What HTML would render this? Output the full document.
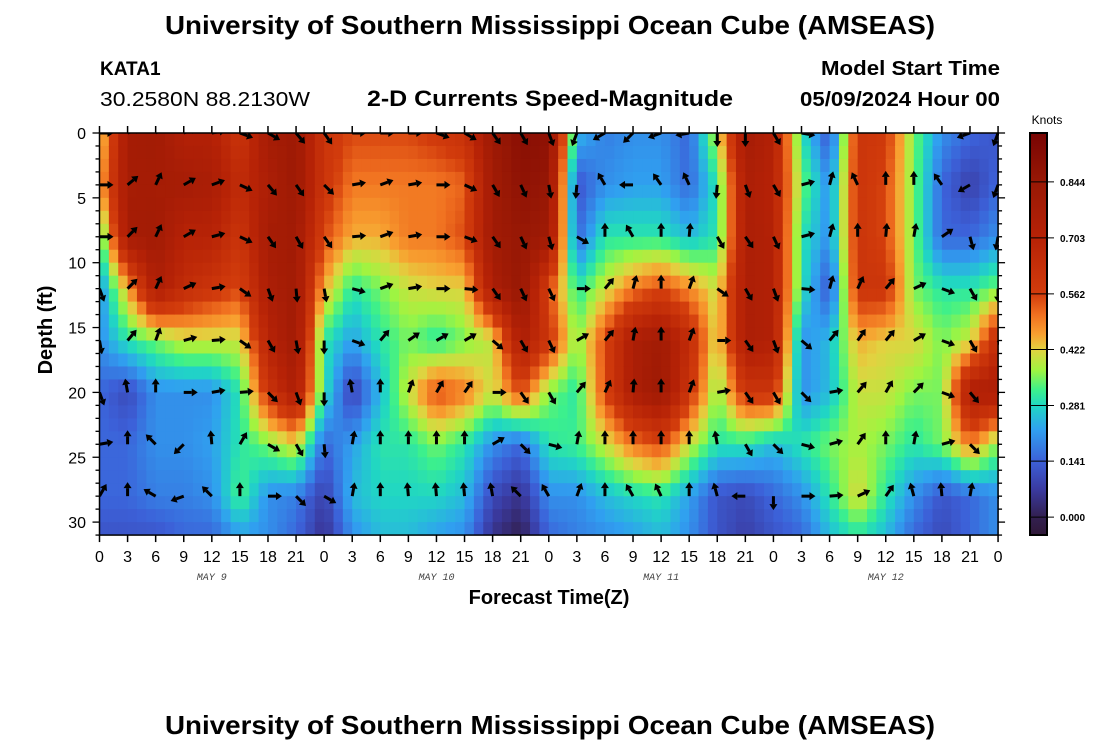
<!DOCTYPE html>
<html><head><meta charset="utf-8"><style>
html,body{margin:0;padding:0;background:#fff;}
svg{display:block;font-family:"Liberation Sans",Arial,sans-serif;}
</style></head><body>
<svg id="chart" width="1100" height="750" xmlns="http://www.w3.org/2000/svg">
<rect width="1100" height="750" fill="#fff"/>
<text x="550" y="34" text-anchor="middle" font-size="26" font-weight="bold" textLength="770" lengthAdjust="spacingAndGlyphs">University of Southern Mississippi Ocean Cube (AMSEAS)</text>
<text x="100" y="75" font-size="19" font-weight="bold">KATA1</text>
<text x="100" y="106" font-size="20" textLength="210" lengthAdjust="spacingAndGlyphs">30.2580N  88.2130W</text>
<text x="367" y="106" font-size="22" font-weight="bold" textLength="366" lengthAdjust="spacingAndGlyphs">2-D Currents Speed-Magnitude</text>
<text x="1000" y="75" text-anchor="end" font-size="20" font-weight="bold" textLength="179" lengthAdjust="spacingAndGlyphs">Model Start Time</text>
<text x="1000" y="106" text-anchor="end" font-size="20" font-weight="bold" textLength="200" lengthAdjust="spacingAndGlyphs">05/09/2024 Hour 00</text>
<defs><clipPath id="pc"><rect x="99" y="133" width="900" height="402"/></clipPath>
<linearGradient id="cbg" x1="0" y1="1" x2="0" y2="0"></linearGradient></defs>
<g id="heat" clip-path="url(#pc)"></g>
<g id="arrows" clip-path="url(#pc)"></g>
<g id="axes"></g>
<g id="cbar"></g>
<text transform="translate(52,330) rotate(-90)" text-anchor="middle" font-size="20" font-weight="bold">Depth (ft)</text>
<text x="549" y="604" text-anchor="middle" font-size="20" font-weight="bold">Forecast Time(Z)</text>
<text x="550" y="734" text-anchor="middle" font-size="26" font-weight="bold" textLength="770" lengthAdjust="spacingAndGlyphs">University of Southern Mississippi Ocean Cube (AMSEAS)</text>
</svg>
<script>
const hours=[0,3,6,9,12,15,18,21,24,27,30,33,36,39,42,45,48,51,54,57,60,63,66,69,72,75,78,81,84,87,90,93,96];
const depths=[0,4,8,12,16,20,24,28,31];
const speed0=[0.4,0.78,0.8,0.72,0.72,0.6,0.78,0.82,0.6,0.55,0.55,0.55,0.58,0.62,0.82,0.9,0.88,0.25,0.18,0.2,0.2,0.15,0.4,0.78,0.72,0.3,0.12,0.6,0.58,0.35,0.2,0.15,0.12];
const speed4=[0.45,0.78,0.78,0.78,0.76,0.65,0.75,0.82,0.6,0.5,0.5,0.5,0.5,0.52,0.8,0.88,0.85,0.12,0.2,0.22,0.22,0.15,0.3,0.75,0.7,0.35,0.2,0.6,0.55,0.35,0.15,0.08,0.15];
const speed8=[0.3,0.78,0.8,0.7,0.7,0.6,0.78,0.8,0.55,0.45,0.45,0.5,0.5,0.55,0.8,0.85,0.8,0.15,0.3,0.3,0.3,0.25,0.3,0.75,0.72,0.3,0.2,0.6,0.55,0.35,0.15,0.15,0.2];
const speed12=[0.2,0.45,0.75,0.65,0.6,0.55,0.75,0.8,0.45,0.3,0.35,0.4,0.42,0.42,0.75,0.85,0.55,0.3,0.4,0.5,0.55,0.48,0.4,0.75,0.72,0.3,0.12,0.6,0.6,0.35,0.3,0.3,0.35];
const speed16=[0.2,0.3,0.35,0.4,0.4,0.4,0.7,0.8,0.3,0.22,0.3,0.35,0.3,0.35,0.4,0.75,0.6,0.35,0.55,0.75,0.8,0.65,0.4,0.75,0.72,0.2,0.25,0.45,0.42,0.42,0.35,0.4,0.65];
const speed20=[0.15,0.1,0.2,0.2,0.2,0.3,0.6,0.75,0.3,0.08,0.25,0.4,0.55,0.5,0.4,0.55,0.35,0.3,0.55,0.75,0.82,0.6,0.35,0.6,0.6,0.2,0.25,0.4,0.4,0.35,0.35,0.75,0.75];
const speed24=[0.15,0.15,0.2,0.2,0.22,0.3,0.35,0.42,0.15,0.22,0.3,0.3,0.35,0.3,0.2,0.15,0.3,0.32,0.4,0.5,0.55,0.4,0.3,0.3,0.25,0.3,0.35,0.38,0.35,0.3,0.35,0.5,0.35];
const speed28=[0.15,0.15,0.18,0.18,0.2,0.33,0.2,0.18,0.08,0.25,0.28,0.28,0.28,0.25,0.1,0.05,0.2,0.2,0.25,0.28,0.3,0.22,0.12,0.1,0.15,0.2,0.3,0.42,0.3,0.2,0.12,0.15,0.2];
const speed31=[0.12,0.12,0.12,0.15,0.15,0.22,0.2,0.15,0.05,0.2,0.25,0.25,0.22,0.2,0.05,0.0,0.15,0.18,0.2,0.22,0.25,0.2,0.12,0.08,0.12,0.15,0.25,0.3,0.25,0.15,0.1,0.15,0.2];
const arrowDepths=[0,4,8,12,16,20,24,28];
const dir0=[0,20,30,20,10,-20,-30,-50,-55,0,0,0,-20,-30,-55,-60,-70,-110,-150,-135,-160,-170,-90,-90,-60,-10,60,90,90,90,120,-160,-110];
const dir4=[0,40,65,30,20,-25,-50,-55,-45,10,20,10,0,-25,-60,-65,-80,-95,120,180,125,115,-95,-70,-60,15,75,115,90,90,125,210,-110];
const dir8=[0,45,65,30,15,-25,-55,-60,-55,5,20,10,0,-20,-55,-65,-75,-30,90,120,90,85,-60,-55,-65,15,75,90,85,80,35,-75,-100];
const dir12=[-70,45,65,25,10,-35,-70,-85,-80,-15,20,10,0,-5,-55,-65,-65,0,50,75,90,70,-35,-60,-70,-5,75,65,50,25,-20,-60,-90];
const dir16=[-80,50,70,15,5,-35,-60,-80,-90,-20,50,35,30,30,-40,-60,-65,30,50,80,90,70,0,-55,-70,-40,50,55,50,30,-20,-60,-60];
const dir20=[-70,100,90,0,10,5,-45,-70,-90,100,90,70,60,55,0,-55,-60,50,65,85,90,70,10,-55,-60,-45,10,50,60,45,-20,-50,-40];
const dir24=[10,90,135,-135,95,60,-30,-60,-85,80,90,90,90,90,30,-45,-15,80,90,90,90,90,100,-60,-45,-15,15,55,90,80,15,-45,0];
const dir28=[60,90,150,200,135,90,0,-45,-30,80,90,95,95,95,100,135,120,70,90,120,115,90,105,180,-90,0,5,25,55,105,95,80,-45];
const yTicks=[0,5,10,15,20,25,30];
const xTickLabels=["0","3","6","9","12","15","18","21"];
const dayLabels=["MAY 9","MAY 10","MAY 11","MAY 12"];
const cbTicks=[0.844,0.703,0.562,0.422,0.281,0.141,0.000];

const speeds=[speed0,speed4,speed8,speed12,speed16,speed20,speed24,speed28,speed31];
const dirs=[dir0,dir4,dir8,dir12,dir16,dir20,dir24,dir28];
const NS="http://www.w3.org/2000/svg";
const X0=99.5,XW=9.36,Y0=133,YH=12.97,VMIN=-0.045,VMAX=0.967,CBY0=133,CBY1=535;
const xs=h=>X0+h*XW, ys=d=>Y0+d*YH;
const cbY=v=>CBY1-(v-VMIN)/(VMAX-VMIN)*(CBY1-CBY0);
const stops=[[-0.045,[48,24,56]],[0.0,[50,32,80]],[0.07,[58,58,160]],[0.141,[60,96,216]],[0.22,[48,160,240]],[0.28,[32,214,196]],[0.32,[60,240,140]],[0.37,[160,244,64]],[0.422,[226,210,64]],[0.46,[248,160,48]],[0.51,[240,112,32]],[0.562,[210,60,12]],[0.703,[182,34,6]],[0.844,[152,24,5]],[0.967,[120,4,3]]];
function col(v){if(v<=stops[0][0])return 'rgb('+stops[0][1]+')';for(let i=1;i<stops.length;i++){if(v<=stops[i][0]){const a=stops[i-1],b=stops[i],t=(v-a[0])/(b[0]-a[0]);return 'rgb('+a[1].map((c,k)=>Math.round(c+(b[1][k]-c)*t)).join(',')+')';}}return 'rgb('+stops[stops.length-1][1]+')';}
function interp(h,d){let j=0;while(j<depths.length-2&&d>depths[j+1])j++;let i=0;while(i<hours.length-2&&h>hours[i+1])i++;
const tx=Math.min(1,Math.max(0,(h-hours[i])/(hours[i+1]-hours[i]))),ty=Math.min(1,Math.max(0,(d-depths[j])/(depths[j+1]-depths[j])));
const a=speeds[j][i],b=speeds[j][i+1],c=speeds[j+1][i],e=speeds[j+1][i+1];return (a*(1-tx)+b*tx)*(1-ty)+(c*(1-tx)+e*tx)*ty;}
function mk(tag,at,parent){const el=document.createElementNS(NS,tag);for(const k in at)el.setAttribute(k,at[k]);parent.appendChild(el);return el;}
const heat=document.getElementById('heat');
for(let h=0;h<96;h++){for(let d=0;d<31;d++){const v=interp(h+0.5,d+0.5);
const r=mk('rect',{x:xs(h).toFixed(2),y:ys(d).toFixed(2),width:(XW+0.6).toFixed(2),height:(YH+0.6).toFixed(2),fill:col(v)},heat);

}}
const ag=document.getElementById('arrows');
arrowDepths.forEach((d,j)=>{hours.forEach((h,i)=>{const a=dirs[j][i]*Math.PI/180,L=14;
const x=xs(h),y=ys(d),ex=x+L*Math.cos(a),ey=y-L*Math.sin(a);
const g=mk('g',{},ag);


const sx=x+(L-6)*Math.cos(a),sy=y-(L-6)*Math.sin(a);
mk('line',{x1:x,y1:y,x2:sx,y2:sy,stroke:'#000','stroke-width':3},g);
const px=Math.sin(a),py=Math.cos(a);
mk('polygon',{points:`${ex},${ey} ${sx+4*px},${sy+4*py} ${sx-4*px},${sy-4*py}`,fill:'#000'},g);});});
const ax=document.getElementById('axes');
mk('rect',{x:X0,y:Y0,width:(96*XW),height:(31*YH),fill:'none',stroke:'#000','stroke-width':1.5},ax);
for(let h=0;h<=96;h+=3){const x=xs(h);
mk('line',{x1:x,y1:Y0,x2:x,y2:Y0-7,stroke:'#000','stroke-width':1.5},ax);
mk('line',{x1:x,y1:Y0+31*YH,x2:x,y2:Y0+31*YH+7,stroke:'#000','stroke-width':1.5},ax);
const t=mk('text',{x:x,y:562,'text-anchor':'middle','font-size':16},ax);


t.textContent=xTickLabels[(h/3)%8];}
dayLabels.forEach((s,k)=>{const t=mk('text',{x:xs(12+24*k),y:580,'text-anchor':'middle','font-size':10,'font-style':'italic','font-family':'Liberation Mono, monospace',fill:'#444'},ax);


t.textContent=s;});
for(let d=0;d<=31;d++){const y=ys(d),L=(d%5===0)?7:4;
mk('line',{x1:X0,y1:y,x2:X0-L,y2:y,stroke:'#000','stroke-width':1.3},ax);
mk('line',{x1:X0+96*XW,y1:y,x2:X0+96*XW+L,y2:y,stroke:'#000','stroke-width':1.3},ax);}
yTicks.forEach(d=>{const t=mk('text',{x:86,y:ys(d)+6,'text-anchor':'end','font-size':16},ax);


t.textContent=d;});
const cb=document.getElementById('cbar');
const grad=document.getElementById('cbg');
stops.forEach(s=>{mk('stop',{offset:((s[0]-VMIN)/(VMAX-VMIN)*100).toFixed(2)+'%','stop-color':col(s[0])},grad);});
mk('rect',{x:1030,y:CBY0,width:17,height:CBY1-CBY0,fill:'url(#cbg)',stroke:'#000','stroke-width':2},cb);
const kt=mk('text',{x:1047,y:124,'text-anchor':'middle','font-size':12},cb);


kt.textContent='Knots';
cbTicks.forEach(v=>{const y=cbY(v);
mk('line',{x1:1030,y1:y,x2:1054,y2:y,stroke:'#000','stroke-width':1},cb);
const t=mk('text',{x:1060,y:y+4,'font-size':10,'font-weight':'bold'},cb);


t.textContent=v.toFixed(3);});
</script>
</body></html>
